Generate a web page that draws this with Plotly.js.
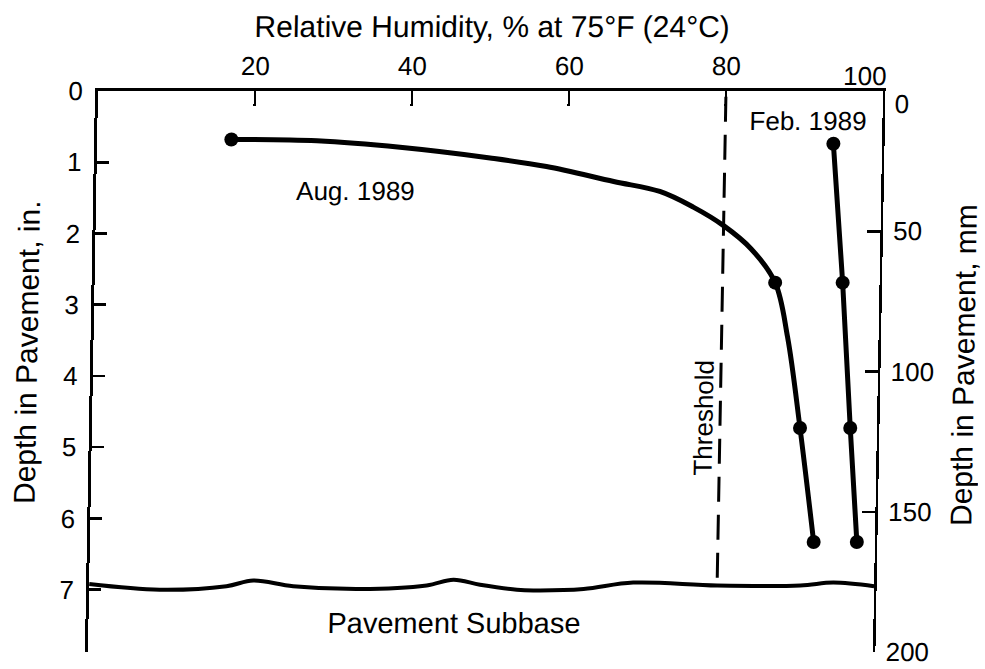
<!DOCTYPE html>
<html>
<head>
<meta charset="utf-8">
<script src="https://cdn.plot.ly/plotly-3.0.1.min.js"></script>
<style>
  html, body { margin: 0; padding: 0; background: #fff; }
  #chart { width: 985px; height: 669px; transform: skewX(-1.03deg); transform-origin: 0 91px; }
</style>
</head>
<body>
<div id="chart"></div>
<script>
// ---- Data (relative humidity %, depth in inches) ----
const augDotRH    = [17.1, 86.7, 90.2, 92.2];
const augDotDepth = [0.68, 2.69, 4.73, 6.33];

const augCurveRH    = [17.1, 28.0, 38.6, 50.1, 57.3, 65.9, 71.8, 76.1, 80.0, 83.6, 86.7, 88.4, 90.2, 92.2];
const augCurveDepth = [0.68, 0.70, 0.79, 0.94, 1.06, 1.27, 1.41, 1.63, 1.89, 2.22, 2.69, 3.45, 4.73, 6.33];

const febRH    = [93.8, 95.3, 96.6, 97.7];
const febDepth = [0.74, 2.69, 4.73, 6.33];

const thresholdRH    = [80, 80];
const thresholdDepth = [0.08, 6.95];

const subbaseRH    = [0, 9.0, 17.5, 20.9, 26.0, 34.5, 43.0, 46.4, 49.8, 54.5, 56.6, 63.0, 69.3, 80.0, 90.6, 94.8, 100];
const subbaseDepth = [6.92, 7.0, 6.95, 6.87, 6.95, 6.99, 6.94, 6.86, 6.93, 7.0, 7.01, 6.99, 6.90, 6.94, 6.94, 6.90, 6.95];

const xTicks  = [20, 40, 60, 80];
const yTicksIn = [0, 1, 2, 3, 4, 5, 6, 7];
const yTicksMm = [50, 100, 150, 200];
const mmMax = 200;
const inMax = mmMax / 25.4;

const FONT = 'Liberation Sans, Arial, Helvetica, sans-serif';

const traces = [
  { x: subbaseRH, y: subbaseDepth, mode: 'lines', line: {color: '#000', width: 4, shape: 'spline', smoothing: 1}, hoverinfo: 'skip' },
  { x: thresholdRH, y: thresholdDepth, mode: 'lines', line: {color: '#000', width: 3, dash: '25px,13px'}, hoverinfo: 'skip' },
  { x: augCurveRH, y: augCurveDepth, mode: 'lines', line: {color: '#000', width: 5, shape: 'spline', smoothing: 1}, name: 'Aug. 1989' },
  { x: augDotRH, y: augDotDepth, mode: 'markers', marker: {color: '#000', size: 14}, name: 'Aug. 1989' },
  { x: febRH, y: febDepth, mode: 'lines+markers', line: {color: '#000', width: 5}, marker: {color: '#000', size: 14}, name: 'Feb. 1989' },
  { x: [], y: [], yaxis: 'y2', mode: 'markers', hoverinfo: 'skip' }
];

const px2paperX = p => (p - 98) / 785;
const px2paperY = p => 1 - (p - 91) / 561;

const layout = {
  width: 985, height: 669,
  margin: {l: 98, r: 102, t: 91, b: 17, pad: 0},
  paper_bgcolor: '#fff', plot_bgcolor: '#fff',
  showlegend: false,
  font: {family: FONT, color: '#000'},
  title: {
    text: 'Relative Humidity, % at 75°F (24°C)',
    font: {family: FONT, size: 30, color: '#000'},
    xref: 'container', yref: 'container',
    x: 491 / 985, y: 1 - 27 / 669, xanchor: 'center', yanchor: 'middle'
  },
  xaxis: {
    side: 'top', range: [0, 100], tickvals: xTicks, ticktext: xTicks.map(String),
    ticks: 'inside', ticklen: 15, tickwidth: 2.5, tickcolor: '#000',
    showline: true, linewidth: 3, linecolor: '#000',
    showgrid: false, zeroline: false,
    tickfont: {family: FONT, size: 26, color: '#000'},
    ticklabelstandoff: 3
  },
  yaxis: {
    range: [inMax, 0], tickvals: yTicksIn,
    ticks: 'inside', ticklen: 12, tickwidth: 2.5, tickcolor: '#000',
    showline: true, linewidth: 3, linecolor: '#000',
    showgrid: false, zeroline: false,
    tickfont: {family: FONT, size: 26, color: '#000'},
    ticklabelstandoff: 7
  },
  yaxis2: {
    overlaying: 'y', side: 'right', anchor: 'x',
    range: [mmMax, 0], tickvals: yTicksMm,
    ticks: 'inside', ticklen: 13, tickwidth: 2.5, tickcolor: '#000',
    showline: true, linewidth: 2.5, linecolor: '#000',
    showgrid: false, zeroline: false,
    tickfont: {family: FONT, size: 26, color: '#000'},
    ticklabelstandoff: 5
  },
  annotations: [
    {text: 'Aug. 1989', x: 33.0, y: 1.40, xref: 'x', yref: 'y', showarrow: false, font: {size: 26}, xanchor: 'center', yanchor: 'middle'},
    {text: 'Feb. 1989', x: 90.5, y: 0.42, xref: 'x', yref: 'y', showarrow: false, font: {size: 26}, xanchor: 'center', yanchor: 'middle'},
    {text: 'Threshold', x: 77.9, y: 4.59, xref: 'x', yref: 'y', showarrow: false, textangle: -90, font: {size: 26}, xanchor: 'center', yanchor: 'middle'},
    {text: 'Pavement Subbase', x: 46.6, y: 7.46, xref: 'x', yref: 'y', showarrow: false, font: {size: 29}, xanchor: 'center', yanchor: 'middle'},
    {text: '100', x: 97.7, y: px2paperY(76), xref: 'x', yref: 'paper', showarrow: false, font: {size: 26}, xanchor: 'center', yanchor: 'middle'},
    {text: '0', x: px2paperX(902), y: px2paperY(104), xref: 'paper', yref: 'paper', showarrow: false, font: {size: 26}, xanchor: 'center', yanchor: 'middle'},
    {text: 'Depth in Pavement, in.', x: px2paperX(31), y: px2paperY(352), xref: 'paper', yref: 'paper', showarrow: false, textangle: -90, font: {size: 30}, xanchor: 'center', yanchor: 'middle'},
    {text: 'Depth in Pavement, mm', x: px2paperX(968), y: px2paperY(365), xref: 'paper', yref: 'paper', showarrow: false, textangle: -90, font: {size: 30}, xanchor: 'center', yanchor: 'middle'}
  ]
};

Plotly.newPlot('chart', traces, layout, {displayModeBar: false, staticPlot: true});
</script>
</body>
</html>
